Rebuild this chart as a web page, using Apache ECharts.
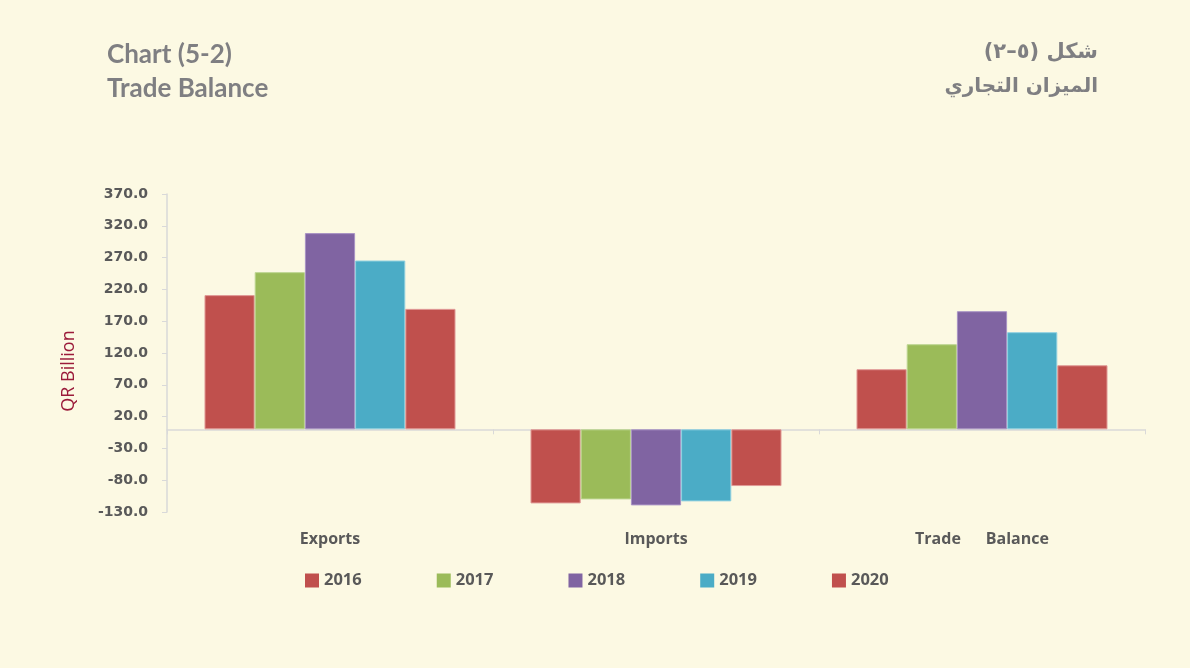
<!DOCTYPE html>
<html>
<head>
<meta charset="utf-8">
<script src="https://cdn.jsdelivr.net/npm/echarts@6/dist/echarts.min.js"></script>
<style>
html,body{margin:0;padding:0;background:#fcf9e3;}
#c{width:1190px;height:668px;}
</style>
</head>
<body>
<div id="c"></div>
<script>
const categories = ['Exports', 'Imports', 'Trade\u00a0\u00a0\u00a0\u00a0\u00a0\u00a0Balance'];
const years = ['2016', '2017', '2018', '2019', '2020'];
const v2016 = [211.0, -116.5, 94.5];
const v2017 = [247.1, -110.2, 133.8];
const v2018 = [308.5, -119.6, 185.7];
const v2019 = [265.4, -113.3, 152.7];
const v2020 = [189.4, -89.2, 100.7];
const seriesValues = [v2016, v2017, v2018, v2019, v2020];
const colors = ['#c0504d', '#9bbb59', '#8064a2', '#4bacc6', '#c0504d'];
const borders = ['#e09a97', '#bcd590', '#a893c4', '#8fd0e0', '#e09a97'];

const chart = echarts.init(document.getElementById('c'));
chart.setOption({
  backgroundColor: '#fcf9e3',
  animation: false,
  color: colors,
  grid: {left: 167, right: 45, top: 194, bottom: 156, containLabel: false},
  legend: {
    left: 300, top: 567,
    itemWidth: 14, itemHeight: 14, itemGap: 75,
    icon: 'rect',
    itemStyle: {borderWidth: 0},
    textStyle: {fontFamily: 'Open Sans', fontWeight: 'bold', fontSize: 16.5, color: '#595959'},
    data: years
  },
  xAxis: {
    type: 'category',
    data: categories,
    axisLine: {onZero: true, lineStyle: {color: '#d9d9d9', width: 1.5}},
    axisTick: {show: true, length: 5, lineStyle: {color: '#d9d9d9'}},
    axisLabel: {margin: 19, fontFamily: 'Open Sans', fontWeight: 'bold', fontSize: 16, color: '#595959'},
    splitLine: {show: false}
  },
  yAxis: {
    type: 'value',
    min: -130, max: 370, interval: 50,
    axisLine: {show: true, lineStyle: {color: '#d9d9d9', width: 1.5}},
    axisTick: {show: true, length: 5, lineStyle: {color: '#d9d9d9'}},
    axisLabel: {margin: 19, formatter: v => v.toFixed(1), fontFamily: 'DejaVu Sans', fontWeight: 'bold', fontSize: 14, color: '#595959'},
    splitLine: {show: false}
  },
  graphic: [
    {type: 'text', left: 107, top: 42, style: {text: 'Chart (5-2)', fontFamily: 'Lato', fontWeight: 'bold', fontSize: 26, fill: '#7f7f82'}},
    {type: 'text', left: 107, top: 76, style: {text: 'Trade Balance', fontFamily: 'Lato', fontWeight: 'bold', fontSize: 26, fill: '#7f7f82'}},
    {type: 'text', right: 92, top: 42, style: {text: 'شكل (٥–٢)', fontFamily: 'DejaVu Sans', fontWeight: 'bold', fontSize: 21, fill: '#7f7f82', align: 'right'}},
    {type: 'text', right: 92, top: 77, style: {text: 'الميزان التجاري', fontFamily: 'DejaVu Sans', fontWeight: 'bold', fontSize: 20, fill: '#7f7f82', align: 'right'}},
    {type: 'text', x: 69, y: 371, rotation: Math.PI / 2, style: {text: 'QR Billion', fontFamily: 'Open Sans', fontSize: 18, fill: '#9b1b3a', align: 'center', verticalAlign: 'middle'}}
  ],
  series: years.map((y, i) => ({
    name: y,
    type: 'bar',
    data: seriesValues[i],
    barGap: '0%',
    barCategoryGap: '23%',
    itemStyle: {color: colors[i], borderColor: borders[i], borderWidth: 1}
  }))
});
</script>
</body>
</html>
